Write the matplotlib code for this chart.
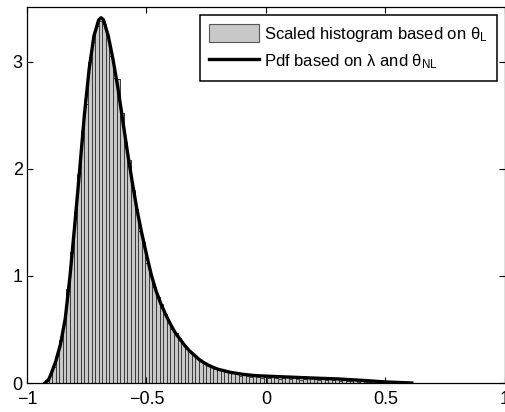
import numpy as np
import matplotlib.pyplot as plt
from matplotlib.patches import Patch
from matplotlib.lines import Line2D

plt.rcParams['font.family'] = ['Liberation Sans', 'DejaVu Sans']
plt.rcParams['mathtext.fontset'] = 'custom'
plt.rcParams['mathtext.rm'] = 'Liberation Sans'
plt.rcParams['mathtext.it'] = 'Liberation Sans'
plt.rcParams['mathtext.bf'] = 'Liberation Sans:bold'

# histogram: first bin edge, bin width, scaled heights
BIN_START = -0.925
BIN_WIDTH = 0.015
hist_heights = [
    0.03, 0.08, 0.15, 0.26, 0.40, 0.58, 0.88, 1.22, 1.60, 1.95,
    2.35, 2.60, 3.00, 3.18, 3.33, 3.38, 3.35, 3.22, 3.05, 2.85,
    2.84, 2.52, 2.25, 2.08, 1.80, 1.62, 1.42, 1.32, 1.12, 1.00,
    0.90, 0.80, 0.74, 0.64, 0.58, 0.50, 0.47, 0.42, 0.36, 0.33,
    0.29, 0.26, 0.23, 0.21, 0.18, 0.16, 0.15, 0.13, 0.12, 0.11,
    0.10, 0.09, 0.10, 0.08, 0.07, 0.08, 0.07, 0.06, 0.07, 0.06,
    0.05, 0.07, 0.05, 0.06, 0.05, 0.04, 0.05, 0.06, 0.04, 0.05,
    0.04, 0.03, 0.04, 0.05, 0.06, 0.04, 0.03, 0.04, 0.03, 0.05,
    0.03, 0.04, 0.02, 0.03, 0.02, 0.02, 0.03, 0.01, 0.02, 0.01,
    0.01, 0.015, 0.01, 0.005, 0.01,
]

# pdf curve points
pdf_x = [-0.925, -0.91, -0.90, -0.88, -0.86, -0.84, -0.82, -0.80, -0.78, -0.76,
         -0.74, -0.72, -0.70, -0.69, -0.68, -0.66, -0.64, -0.62, -0.60, -0.58,
         -0.56, -0.54, -0.52, -0.50, -0.48, -0.46, -0.44, -0.42, -0.40, -0.38,
         -0.36, -0.34, -0.32, -0.30, -0.28, -0.26, -0.24, -0.22, -0.20, -0.15,
         -0.10, -0.05, 0.0, 0.1, 0.2, 0.3, 0.4, 0.5, 0.61]
pdf_y = [0.0, 0.03, 0.08, 0.20, 0.36, 0.60, 1.00, 1.48, 1.98, 2.50,
         2.93, 3.24, 3.39, 3.41, 3.39, 3.24, 3.02, 2.76, 2.46, 2.16,
         1.88, 1.62, 1.40, 1.20, 1.01, 0.86, 0.74, 0.64, 0.55, 0.47,
         0.41, 0.35, 0.30, 0.26, 0.22, 0.19, 0.165, 0.145, 0.128, 0.10,
         0.082, 0.07, 0.064, 0.055, 0.046, 0.038, 0.025, 0.01, 0.0]

labels = [r'Scaled histogram based on $\theta_{\rm L}$',
          r'Pdf based on $\lambda$ and $\theta_{\rm NL}$']


def main():
    fig = plt.figure(figsize=(5.06, 4.12), dpi=100)
    ax = fig.add_axes([27 / 506, 29 / 412, 478 / 506, 376 / 412])

    lefts = BIN_START + BIN_WIDTH * np.arange(len(hist_heights))
    ax.bar(lefts, hist_heights, width=BIN_WIDTH, align='edge',
           color='#c8c8c8', edgecolor='#3a3a3a', linewidth=0.7)
    ax.plot(pdf_x, pdf_y, color='black', linewidth=2.4)

    ax.set_xlim(-1, 1)
    ax.set_ylim(0, 3.51)
    ax.set_xticks([-1, -0.5, 0, 0.5, 1])
    ax.set_xticklabels(['\u22121', '\u22120.5', '0', '0.5', '1'])
    ax.set_yticks([0, 1, 2, 3])
    ax.tick_params(direction='in', top=True, right=True, length=4,
                   labelsize=13, width=0.8)
    ax.tick_params(axis='x', pad=6)
    ax.tick_params(axis='y', pad=3)
    for s in ax.spines.values():
        s.set_linewidth(0.9)

    handles = [Patch(facecolor='#c8c8c8', edgecolor='#555555', linewidth=0.8),
               Line2D([], [], color='black', linewidth=2.4)]
    leg = ax.legend(handles, labels, loc='upper right',
                    bbox_to_anchor=(0.983, 0.979), borderaxespad=0,
                    prop={'size': 12}, fancybox=False, framealpha=1,
                    edgecolor='black', handlelength=3.0, handleheight=1.3,
                    handletextpad=0.3, labelspacing=0.5, borderpad=0.55)
    leg.get_frame().set_linewidth(1.1)

    fig.savefig('out.png', dpi=100)


if __name__ == "__main__":
    main()
